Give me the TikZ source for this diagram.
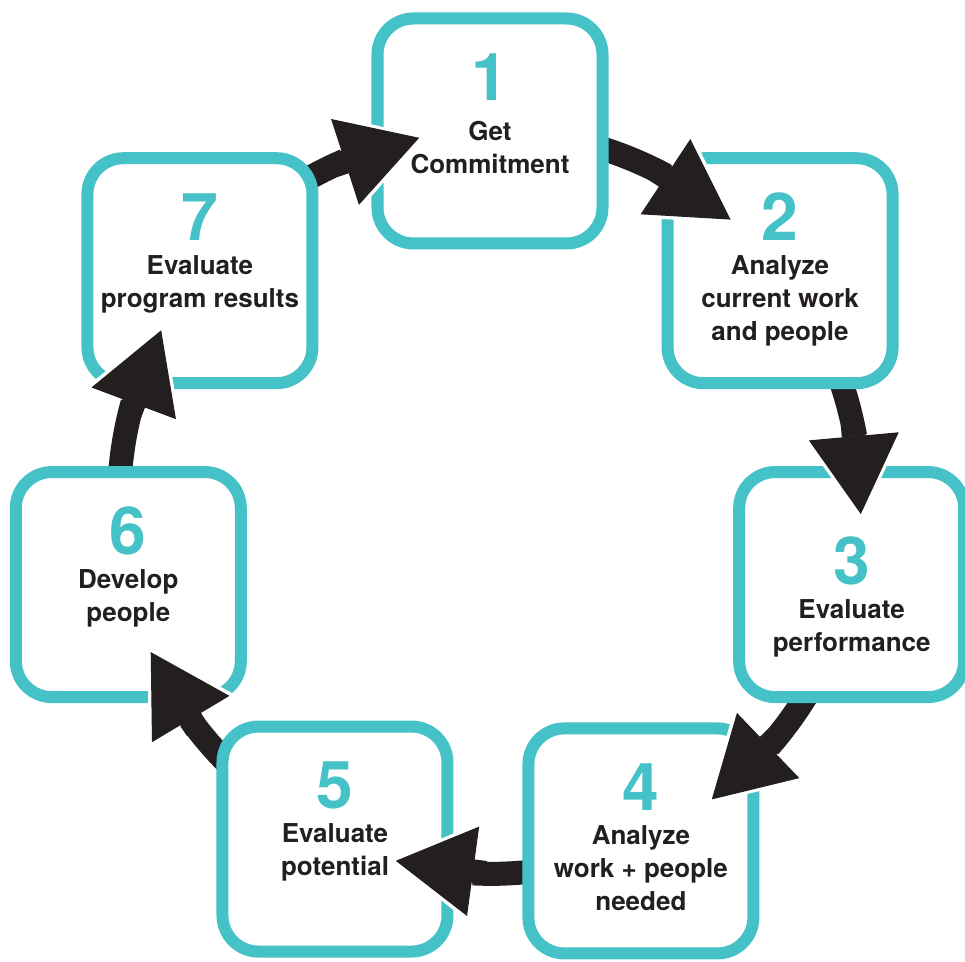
\documentclass[tikz,border=0pt]{standalone}
\usepackage{fontspec}
\setmainfont{TeX Gyre Heros}
\usetikzlibrary{positioning, arrows.meta, backgrounds}
\definecolor{tealline}{RGB}{69,194,199}
\definecolor{inkblack}{RGB}{35,31,32}
\newcommand{\stepno}[1]{{\fontsize{66}{66}\selectfont\color{tealline}#1}}

\begin{document}
\begin{tikzpicture}[
    x=1pt, y=1pt,
    stepbox/.style={draw=tealline, line width=12pt, fill=white, rounded corners=36pt, minimum width=225pt, minimum height=225pt},
    steptext/.style={align=center, inner sep=0pt, outer sep=0pt, text=inkblack, font=\fontsize{26}{33}\selectfont\bfseries},
    shaft/.style={draw=inkblack, line width=24pt},
    head/.style={draw=inkblack, line width=24pt, -{Triangle[length=78pt, width=90pt, line width=1pt]}},
    halo/.style={draw=white, line width=1pt, shorten >=-5pt, -{Triangle[length=84pt, width=100pt, line width=1pt]}}
]
\useasboundingbox (-490,-459) rectangle (475,502);

% the seven steps round the ring
\node[stepbox] (b1) at (90:371) {};
\node[stepbox] (b2) at (38.57:371) {};
\node[stepbox] (b3) at (-12.86:371) {};
\node[stepbox] (b4) at (-66:371) {};
\node[stepbox] (b5) at (-114.7:371) {};
\node[stepbox] (b6) at (-167.14:371) {};
\node[stepbox] (b7) at (141.43:371) {};

\node[steptext, below=41pt of b1.north] (t1) {\stepno{1}\\[7pt] Get\\ Commitment};
\node[steptext, below=41pt of b2.north] (t2) {\stepno{2}\\[1pt] Analyze\\ current work\\ and people};
\node[steptext, below=71pt of b3.north] (t3) {\stepno{3}\\[1pt] Evaluate\\ performance};
\node[steptext, below=41pt of b4.north] (t4) {\stepno{4}\\[1pt] Analyze\\ work + people\\ needed};
\node[steptext, below=41pt of b5.north] (t5) {\stepno{5}\\[1pt] Evaluate\\ potential};
\node[steptext, below=41pt of b6.north] (t6) {\stepno{6}\\[1pt] Develop\\ people};
\node[steptext, below=41pt of b7.north] (t7) {\stepno{7}\\[1pt] Evaluate\\ program results};

% where each head ends, and where it meets its shaft
\coordinate (h1) at (101:371);
\coordinate (h2) at (49.57:371);
\coordinate (h3) at (-1.86:371);
\coordinate (h4) at (-53.29:371);
\coordinate (h5) at (-104.71:371);
\coordinate (h6) at (-156.14:371);
\coordinate (h7) at (152.43:371);
\coordinate (a1) at (115:371);
\coordinate (a2) at (63.57:371);
\coordinate (a3) at (12.14:371);
\coordinate (a4) at (-39.29:371);
\coordinate (a5) at (-90.71:371);
\coordinate (a6) at (-142.14:371);
\coordinate (a7) at (166.43:371);

% shafts run under the boxes
\begin{scope}[on background layer]
\draw[shaft] (b1.center) to[bend left=20.2, looseness=0.88] (h2);
\draw[shaft] (b2.center) to[bend left=20.2, looseness=0.88] (h3);
\draw[shaft] (b3.center) to[bend left=20.2, looseness=0.88] (h4);
\draw[shaft] (b4.center) to[bend left=20.2, looseness=0.88] (h5);
\draw[shaft] (b5.center) to[bend left=20.2, looseness=0.88] (h6);
\draw[shaft] (b6.center) to[bend left=20.2, looseness=0.88] (h7);
\draw[shaft] (b7.center) to[bend left=20.2, looseness=0.88] (h1);
\end{scope}

% heads sit on top, cut out of the borders
\draw[halo] (a2) -- (h2);
\draw[head] (a2) -- (h2);
\draw[halo] (a3) -- (h3);
\draw[head] (a3) -- (h3);
\draw[halo] (a4) -- (h4);
\draw[head] (a4) -- (h4);
\draw[halo] (a5) -- (h5);
\draw[head] (a5) -- (h5);
\draw[halo] (a6) -- (h6);
\draw[head] (a6) -- (h6);
\draw[halo] (a7) -- (h7);
\draw[head] (a7) -- (h7);
\draw[halo] (a1) -- (h1);
\draw[head] (a1) -- (h1);
\end{tikzpicture}
\end{document}
